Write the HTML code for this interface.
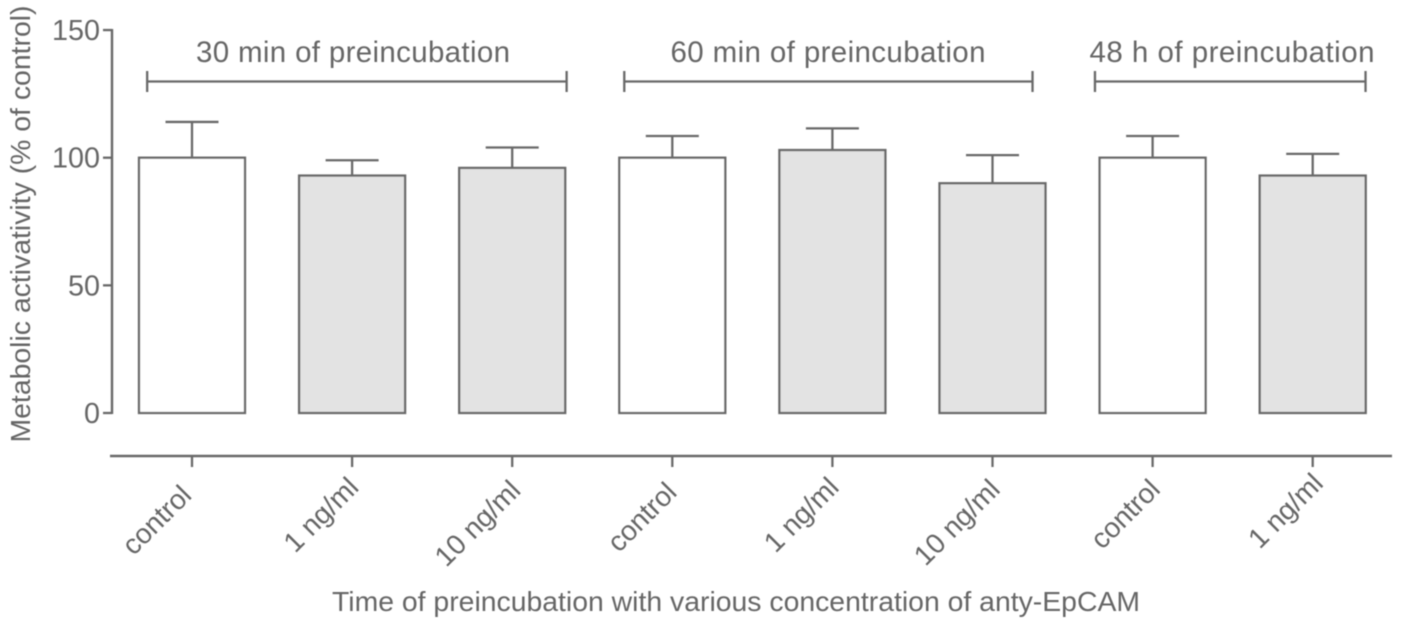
<!DOCTYPE html>
<html>
<head>
<meta charset="utf-8">
<style>
html,body{margin:0;padding:0;background:#fff;width:1403px;height:626px;overflow:hidden}
svg{display:block}
text{font-family:"Liberation Sans",sans-serif;fill:#666666}
</style>
</head>
<body>
<svg id="chart" width="1403" height="626" viewBox="0 0 1403 626" xmlns="http://www.w3.org/2000/svg">
<defs><filter id="soft" x="-2%" y="-2%" width="104%" height="104%"><feGaussianBlur stdDeviation="0.55"/></filter></defs>
<g id="root" filter="url(#soft)"></g>
</svg>
<script>
const categories = ["control","1 ng/ml","10 ng/ml","control","1 ng/ml","10 ng/ml","control","1 ng/ml"];
const means = [100,93,96,100,103,90,100,93];
const errorTops = [114,99,104,108.5,111.5,101,108.5,101.5];
const isTreated = [false,true,true,false,true,true,false,true];
const yTicks = [0,50,100,150];
const groupLabels = ["30 min of preincubation","60 min of preincubation","48 h of preincubation"];
const groupStarts = [-0.28,2.70,5.64];
const groupEnds = [2.34,5.25,7.33];

const NS = "http://www.w3.org/2000/svg";
const root = document.getElementById("root");
const INK = "#696969";
const yScale = v => 413 - v * 2.553;
const xScale = i => 192 + i * 160.1;
const BAR_W = 106;

function mk(tag, attrs, text) {
  const el = document.createElementNS(NS, tag);
  for (const k in attrs) el.setAttribute(k, attrs[k]);
  if (text !== undefined) el.textContent = text;
  root.appendChild(el);
  return el;
}
function ln(x1, y1, x2, y2, w) {
  return mk("line", {x1, y1, x2, y2, stroke: INK, "stroke-width": w || 2.3});
}

/* y axis */
const yAxis = ln(112, yScale(150) - 1, 112, yScale(0) + 1, 2.4);


yTicks.forEach(t => {
  const tick = ln(103, yScale(t), 112, yScale(t));
  
  
  const label = mk("text", {x: 100, y: yScale(t) + 10, "text-anchor": "end", "font-size": 29, textLength: t === 0 ? 16 : (t === 50 ? 32 : 48), lengthAdjust: "spacingAndGlyphs"}, String(t));
  
  
});
const yTitle = mk("text", {transform: "translate(30,224) rotate(-90)", "text-anchor": "middle", "font-size": 27.5, textLength: 437, lengthAdjust: "spacingAndGlyphs"}, "Metabolic activativity (% of control)");



/* bars and error bars */
means.forEach((m, i) => {
  const cx = xScale(i);
  const stem = ln(cx, yScale(errorTops[i]), cx, yScale(m));
  
  
  const cap = ln(cx - 26.5, yScale(errorTops[i]), cx + 26.5, yScale(errorTops[i]));
  
  
  const bar = mk("rect", {x: cx - BAR_W / 2, y: yScale(m), width: BAR_W, height: yScale(0) - yScale(m),
    fill: isTreated[i] ? "#e3e3e3" : "#ffffff", stroke: INK, "stroke-width": 2.3});
  
  
});

/* x axis */
const xAxis = ln(110, 456, 1392, 456, 2.4);


categories.forEach((c, i) => {
  const cx = xScale(i);
  const nudgeX = [1, 8, 10, 6, 8, 9, 9, 12][i];
  const nudgeY = [3, -5, -2, 0, -5, -3, -3, -9][i];
  const tick = ln(cx, 456, cx, 467);
  
  
  const label = mk("text", {transform: `translate(${cx + nudgeX},${494 + nudgeY}) rotate(-45)`, "text-anchor": "end", "font-size": 28}, c);
  
  
});
const xTitle = mk("text", {x: 736, y: 611, "text-anchor": "middle", "font-size": 28, textLength: 808, lengthAdjust: "spacingAndGlyphs"}, "Time of preincubation with various concentration of anty-EpCAM");



/* group brackets */
groupLabels.forEach((g, i) => {
  const a = xScale(groupStarts[i]), b = xScale(groupEnds[i]);
  const span = ln(a, 81.5, b, 81.5);
  
  
  const capL = ln(a, 71, a, 92);
  
  
  const capR = ln(b, 71, b, 92);
  
  
  const label = mk("text", {x: [353, 828, 1232][i], y: 62, "text-anchor": "middle", "font-size": 29.5, textLength: [314, 315, 285][i], lengthAdjust: "spacing"}, g);
  
  
});
</script>
</body>
</html>
